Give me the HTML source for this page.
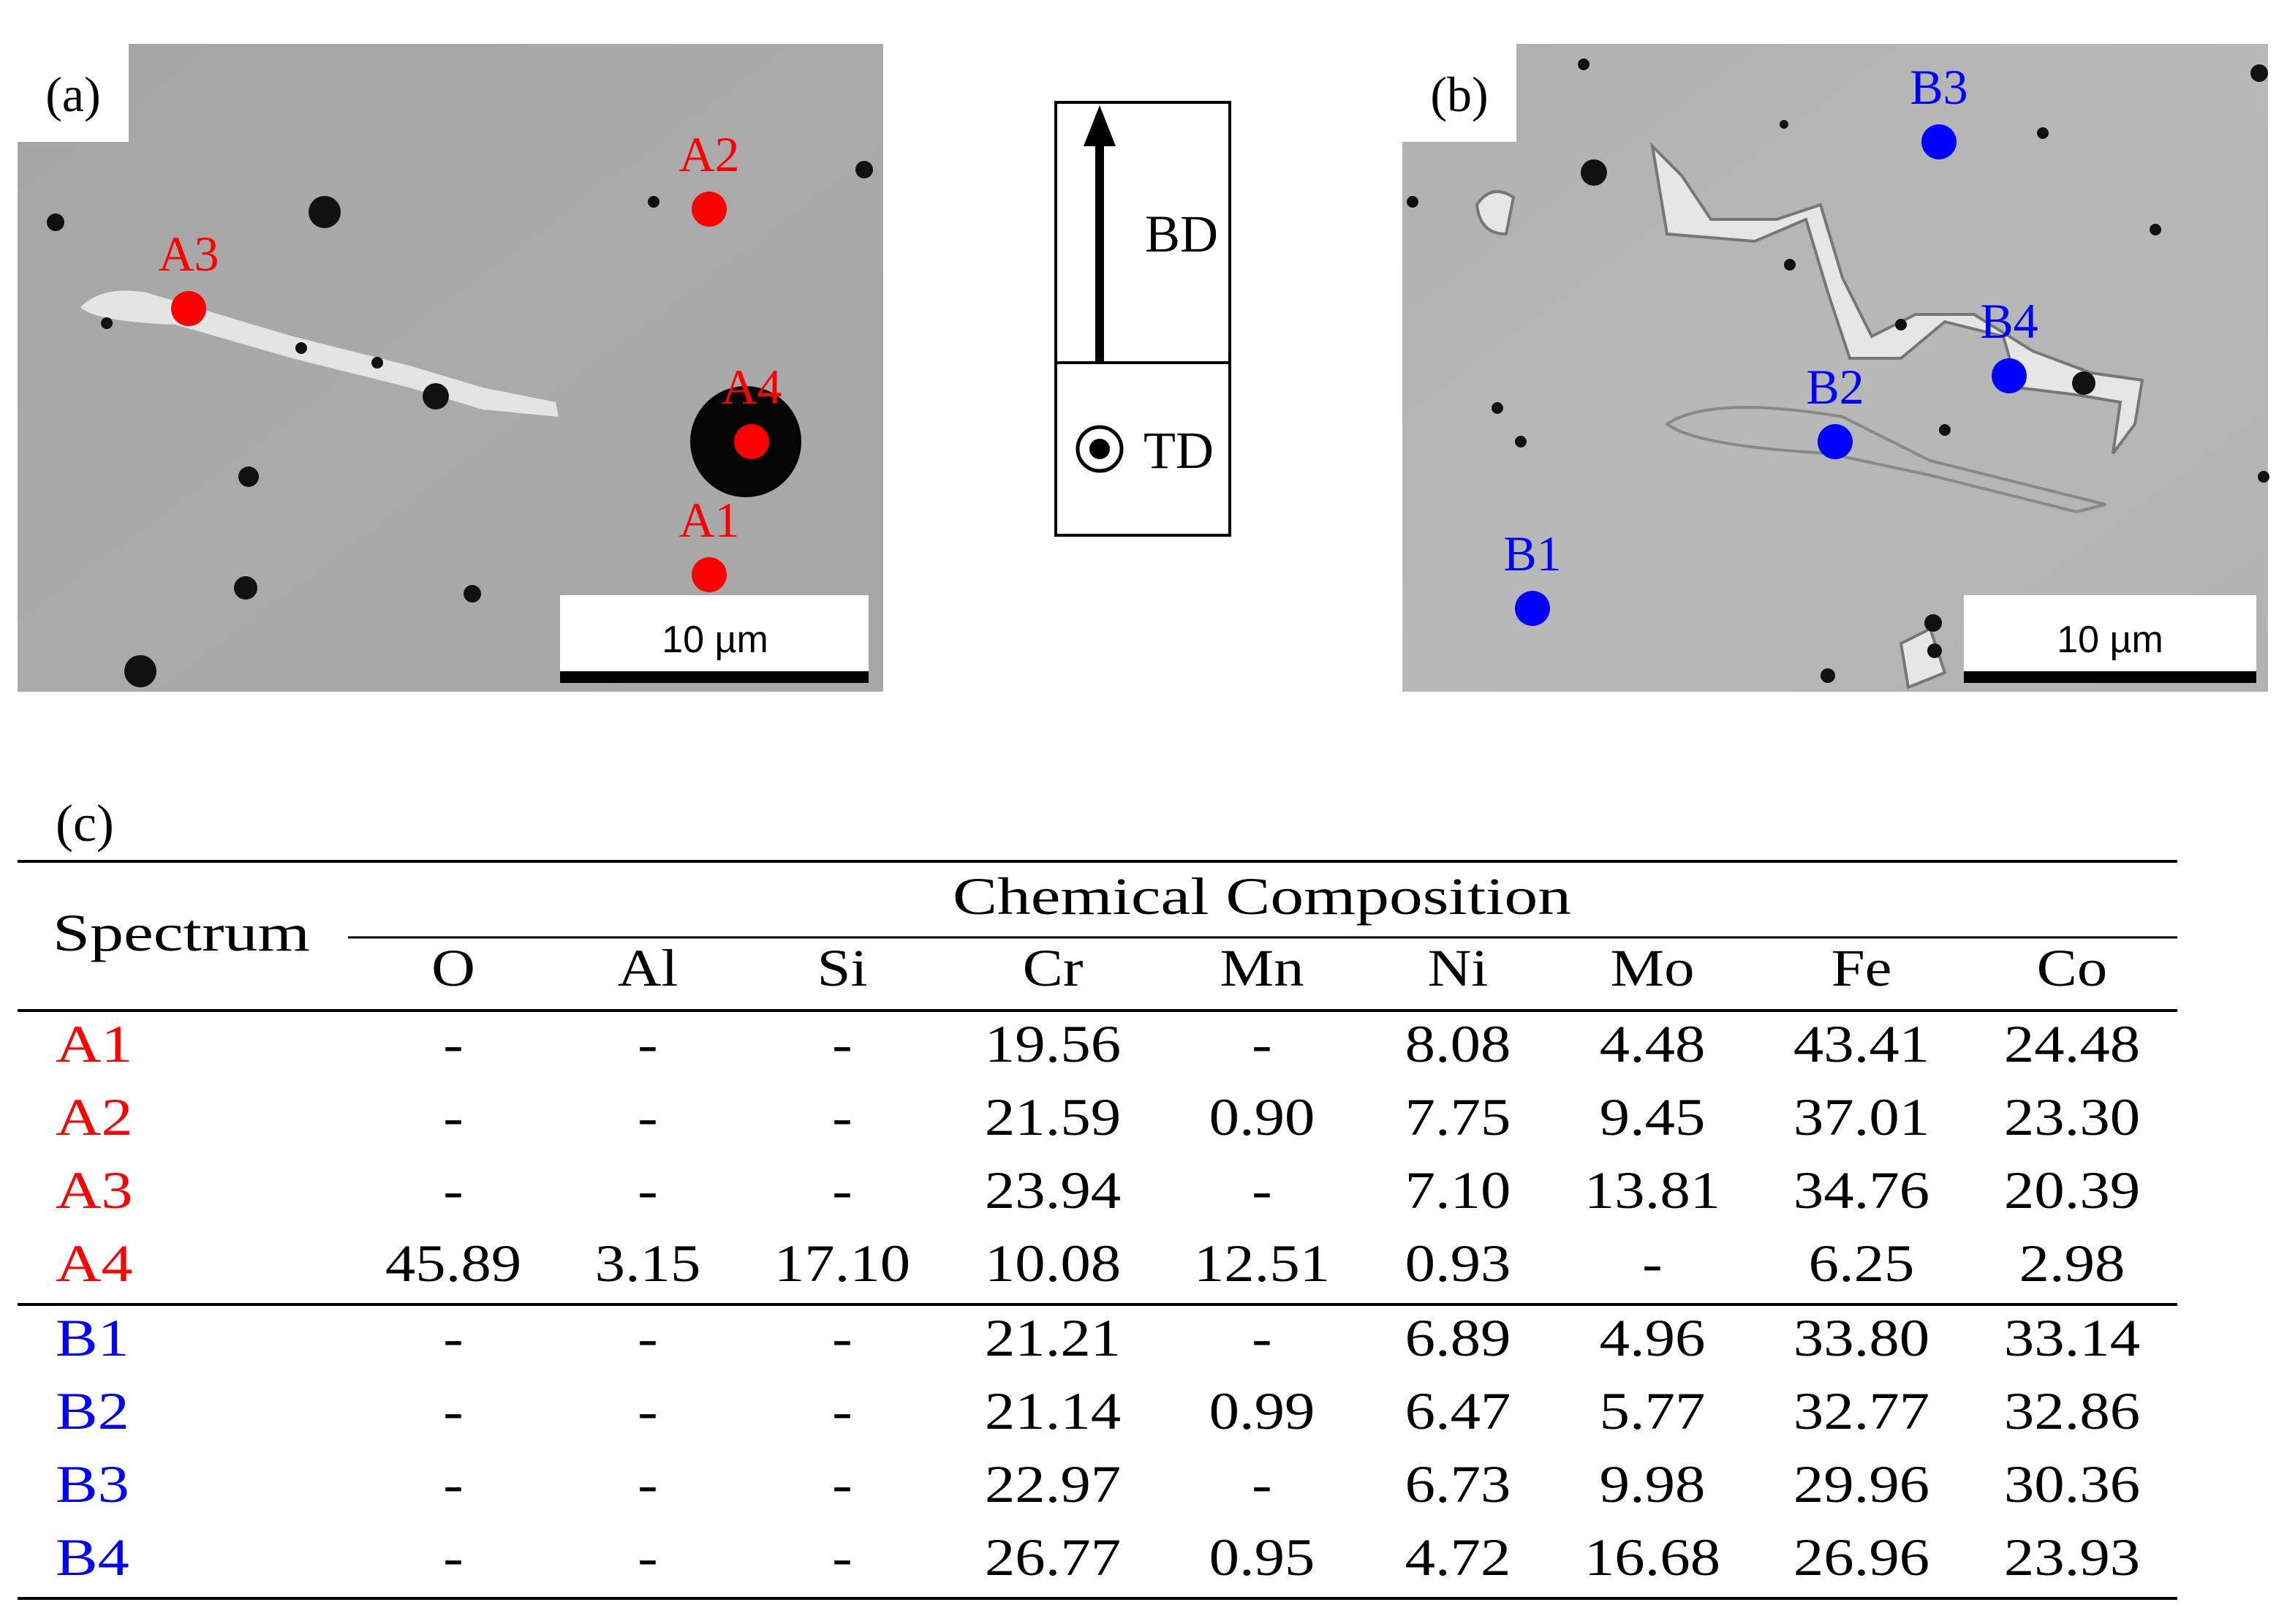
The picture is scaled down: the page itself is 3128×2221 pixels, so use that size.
<!DOCTYPE html>
<html><head><meta charset="utf-8"><style>
html,body{margin:0;padding:0;background:#fff;}
svg{display:block;}
text{font-family:"Liberation Serif",serif;}
</style></head><body>
<svg id="fig" width="3128" height="2221" viewBox="0 0 1564 1110.5" xmlns="http://www.w3.org/2000/svg">
<defs>
<linearGradient id="ga" x1="0" y1="0" x2="1" y2="1"><stop offset="0" stop-color="#a4a4a4"/><stop offset="0.5" stop-color="#aaaaaa"/><stop offset="1" stop-color="#a6a6a6"/></linearGradient>
<linearGradient id="gb" x1="0" y1="0" x2="1" y2="1"><stop offset="0" stop-color="#b0b0b0"/><stop offset="0.5" stop-color="#b8b8b8"/><stop offset="1" stop-color="#b2b2b2"/></linearGradient>
</defs>
<g>
<rect x="12" y="30" width="592" height="443" fill="url(#ga)"/>
<path d="M55 210 Q70 195 100 200 L200 230 L280 250 L330 265 L380 275 L382 285 L330 280 L280 265 L200 245 L120 222 Q65 220 55 210Z" fill="#e4e4e4"/>
<g fill="#111">
<circle cx="222" cy="145" r="11"/><circle cx="38" cy="152" r="6"/><circle cx="298" cy="271" r="9"/><circle cx="170" cy="326" r="7"/><circle cx="168" cy="402" r="8"/><circle cx="96" cy="459" r="11"/><circle cx="323" cy="406" r="6"/><circle cx="591" cy="116" r="6"/><circle cx="447" cy="138" r="4"/><circle cx="206" cy="238" r="4"/><circle cx="258" cy="248" r="4"/><circle cx="73" cy="221" r="4"/>
</g>
<circle cx="510" cy="302" r="38" fill="#050505"/>
<rect x="12" y="30" width="76" height="67" fill="#fff"/>
<text x="50" y="76" font-size="34" text-anchor="middle">(a)</text>
<rect x="383" y="407" width="211" height="60" fill="#fff"/>
<rect x="383" y="459" width="211" height="8" fill="#000"/>
<text x="489" y="446" font-size="26" text-anchor="middle" style="font-family:'Liberation Sans',sans-serif">10 µm</text>
</g>
<g id="ptsA"></g>
<g>
<rect x="722" y="70" width="119" height="296" fill="#fff" stroke="#000" stroke-width="2"/>
<line x1="722" y1="248" x2="841" y2="248" stroke="#000" stroke-width="2"/>
<line x1="752" y1="248" x2="752" y2="95" stroke="#000" stroke-width="6"/>
<polygon points="741,100 763,100 752,72" fill="#000"/>
<text x="808" y="172" font-size="36" text-anchor="middle">BD</text>
<circle cx="752" cy="307" r="15" fill="none" stroke="#000" stroke-width="2.5"/>
<circle cx="752" cy="307" r="7" fill="#000"/>
<text x="806" y="320" font-size="36" text-anchor="middle">TD</text>
</g>
<g>
<rect x="959" y="30" width="592" height="443" fill="url(#gb)"/>
<path d="M1130 100 L1140 160 L1200 165 L1235 150 L1250 200 L1265 245 L1300 245 L1330 220 L1370 230 L1380 265 L1420 270 L1450 275 L1445 310 L1460 290 L1465 260 L1430 255 L1390 240 L1350 215 L1310 215 L1280 230 L1260 190 L1245 140 L1215 150 L1170 150 L1150 120 Z" fill="#e6e6e6" stroke="#777" stroke-width="2"/>
<path d="M1010 140 Q1020 125 1035 135 L1030 160 Q1012 160 1010 140Z" fill="#e6e6e6" stroke="#777" stroke-width="2"/>
<path d="M1140 290 Q1170 270 1260 285 L1320 315 L1440 345 L1420 350 L1320 325 L1250 310 Q1160 305 1140 290Z" fill="none" stroke="#888" stroke-width="2"/>
<path d="M1300 440 L1320 430 L1330 460 L1305 470Z" fill="#e6e6e6" stroke="#777" stroke-width="2"/>
<g fill="#111">
<circle cx="1090" cy="118" r="9"/><circle cx="1224" cy="181" r="4"/><circle cx="1300" cy="222" r="4"/><circle cx="1425" cy="262" r="8"/><circle cx="1024" cy="279" r="4"/><circle cx="1040" cy="302" r="4"/><circle cx="1330" cy="294" r="4"/><circle cx="1250" cy="462" r="5"/><circle cx="1322" cy="426" r="6"/><circle cx="1323" cy="445" r="5"/><circle cx="1474" cy="157" r="4"/><circle cx="1397" cy="91" r="4"/><circle cx="1220" cy="85" r="3"/><circle cx="1083" cy="44" r="4"/><circle cx="966" cy="138" r="4"/><circle cx="1548" cy="326" r="4"/><circle cx="1545" cy="50" r="6"/>
</g>
<rect x="959" y="30" width="78" height="67" fill="#fff"/>
<text x="998" y="76" font-size="34" text-anchor="middle">(b)</text>
<rect x="1343" y="407" width="200" height="60" fill="#fff"/>
<rect x="1343" y="459" width="200" height="8" fill="#000"/>
<text x="1443" y="446" font-size="26" text-anchor="middle" style="font-family:'Liberation Sans',sans-serif">10 µm</text>
</g>
<g id="ptsB"></g>
<g id="table">
<text x="38" y="575" font-size="36">(c)</text>
<line x1="12" y1="589" x2="1489" y2="589" stroke="#000" stroke-width="2"/>
<text x="863" y="625" font-size="36" text-anchor="middle" textLength="423" lengthAdjust="spacingAndGlyphs">Chemical Composition</text>
<line x1="238" y1="641" x2="1489" y2="641" stroke="#000" stroke-width="1.5"/>
<text x="36" y="650" font-size="36" textLength="176" lengthAdjust="spacingAndGlyphs">Spectrum</text>
<line x1="12" y1="691" x2="1489" y2="691" stroke="#000" stroke-width="2"/>
<line x1="12" y1="892" x2="1489" y2="892" stroke="#000" stroke-width="2"/>
<line x1="12" y1="1093" x2="1489" y2="1093" stroke="#000" stroke-width="2"/>
</g>
</svg>
<script>
const elements = ["O","Al","Si","Cr","Mn","Ni","Mo","Fe","Co"];
const spectra = ["A1","A2","A3","A4","B1","B2","B3","B4"];
const rowA1 = ["-","-","-","19.56","-","8.08","4.48","43.41","24.48"];
const rowA2 = ["-","-","-","21.59","0.90","7.75","9.45","37.01","23.30"];
const rowA3 = ["-","-","-","23.94","-","7.10","13.81","34.76","20.39"];
const rowA4 = ["45.89","3.15","17.10","10.08","12.51","0.93","-","6.25","2.98"];
const rowB1 = ["-","-","-","21.21","-","6.89","4.96","33.80","33.14"];
const rowB2 = ["-","-","-","21.14","0.99","6.47","5.77","32.77","32.86"];
const rowB3 = ["-","-","-","22.97","-","6.73","9.98","29.96","30.36"];
const rowB4 = ["-","-","-","26.77","0.95","4.72","16.68","26.96","23.93"];
const pointsA = ["A2","A3","A4","A1"];
const pointsAxy = [[485,143],[129,211],[514,302],[485,393]];
const pointsB = ["B3","B4","B2","B1"];
const pointsBxy = [[1326,97],[1374,257],[1255,302],[1048,416]];

const NS="http://www.w3.org/2000/svg";
const rows=[rowA1,rowA2,rowA3,rowA4,rowB1,rowB2,rowB3,rowB4];
const colX=[310,443,576,720,863,997,1130,1273,1417];
const rowY=[714,764,814,864,915,965,1015,1065];
function mk(tag,attrs,parent){const e=document.createElementNS(NS,tag);for(const k in attrs)e.setAttribute(k,attrs[k]);parent.appendChild(e);return e;}
function widen(t,f){const w=t.getComputedTextLength();if(w>0){t.setAttribute('textLength',(w*f).toFixed(1));t.setAttribute('lengthAdjust','spacingAndGlyphs');}}
const tb=document.getElementById('table');
elements.forEach((el,i)=>{
  const t=mk('text',{x:colX[i],y:674,'font-size':36,'text-anchor':'middle'},tb);
  
  
  t.textContent=el;
  widen(t,1.15);
});
spectra.forEach((s,r)=>{
  const col=s[0]==='A'?'#ff0000':'#0000ff';
  const y=rowY[r]+12;
  const lab=mk('text',{x:38,y:y,'font-size':36,fill:col},tb);
  
  
  lab.textContent=s;
  widen(lab,1.2);
  rows[r].forEach((v,i)=>{
    const t=mk('text',{x:colX[i],y:y,'font-size':36,'text-anchor':'middle'},tb);
    
    
    t.textContent=v;
    widen(t,1.15);
  });
});
function pts(names,xy,gid,col){
  const g=document.getElementById(gid);
  names.forEach((n,i)=>{
    const [x,y]=xy[i];
    const c=mk('circle',{cx:x,cy:y,r:12,fill:col},g);
    
    
    const t=mk('text',{x:x,y:y-26,'font-size':34,'text-anchor':'middle',fill:col},g);
    
    
    t.textContent=n;
  });
}
pts(pointsA,pointsAxy,'ptsA','#ff0000');
pts(pointsB,pointsBxy,'ptsB','#0000ff');
</script>
</body></html>
